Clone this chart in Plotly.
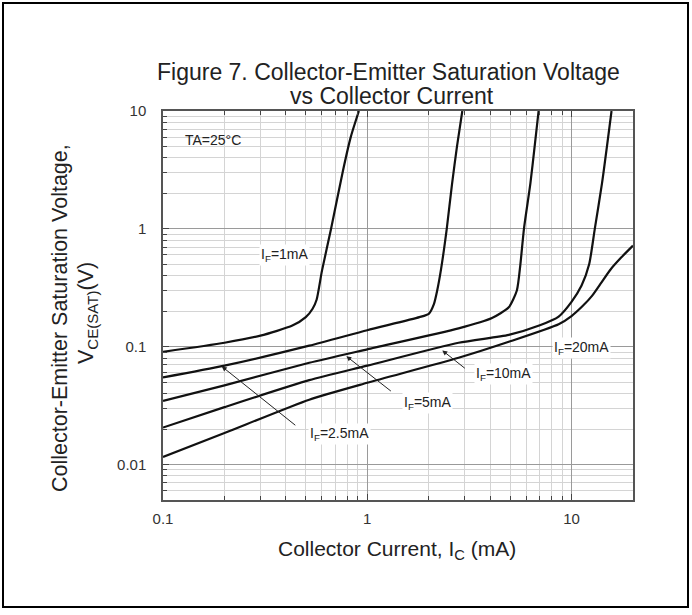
import math
import plotly.graph_objects as go

# ---- data ----
ic_if1 = [0.1, 0.2, 0.3, 0.43, 0.5, 0.54, 0.565, 0.6, 0.665, 0.76, 0.83, 0.91]
vce_if1 = [0.0905, 0.108, 0.124, 0.151, 0.178, 0.21, 0.25, 0.44, 1.0, 3.1, 6.0, 10]

ic_if2_5 = [0.1, 0.2, 0.52, 1.0, 1.8, 2.0, 2.12, 2.2, 2.3, 2.45, 2.6, 2.75, 2.92]
vce_if2_5 = [0.0548, 0.069, 0.102, 0.138, 0.178, 0.19, 0.23, 0.3, 0.46, 1.0, 2.4, 5.0, 10]

ic_if5 = [0.1, 0.2, 0.52, 1.0, 2.8, 4.08, 4.93, 5.4, 5.62, 5.85, 6.29, 6.6, 6.9]
vce_if5 = [0.0347, 0.047, 0.073, 0.095, 0.143, 0.175, 0.216, 0.30, 0.50, 1.0, 2.43, 5.0, 10]

ic_if10 = [0.1, 0.2, 0.52, 1.0, 2.8, 4.93, 7.0, 8.65, 10.0, 11.2, 12.2, 13.0, 14.1, 15.7]
vce_if10 = [0.0206, 0.0307, 0.052, 0.069, 0.108, 0.126, 0.152, 0.18, 0.24, 0.33, 0.5, 1.0, 2.43, 10]

ic_if20 = [0.1, 0.2, 0.52, 1.0, 2.8, 4.93, 8.65, 10.0, 11.3, 12.6, 14.0, 15.5, 17.5, 20]
vce_if20 = [0.0116, 0.0185, 0.0355, 0.0494, 0.0805, 0.110, 0.155, 0.182, 0.22, 0.27, 0.35, 0.45, 0.57, 0.72]

series = [
    ("I<sub>F</sub>=1mA", ic_if1, vce_if1),
    ("I<sub>F</sub>=2.5mA", ic_if2_5, vce_if2_5),
    ("I<sub>F</sub>=5mA", ic_if5, vce_if5),
    ("I<sub>F</sub>=10mA", ic_if10, vce_if10),
    ("I<sub>F</sub>=20mA", ic_if20, vce_if20),
]

x_ticks = [0.1, 1, 10]
x_tick_text = ["0.1", "1", "10"]
y_ticks = [0.01, 0.1, 1, 10]
y_tick_text = ["0.01", "0.1", "1", "10"]

FONT = "Liberation Sans, Arial, sans-serif"
fig = go.Figure()
for name, xs, ys in series:
    fig.add_trace(go.Scatter(
        x=xs, y=ys, mode="lines", name=name,
        line=dict(color="#111111", width=2.2, shape="spline", smoothing=0.6),
        showlegend=False, hoverinfo="skip"))

x_minor = [m * 10 ** d for d in (-1, 0, 1) for m in range(2, 10) if m * 10 ** d < 20]
y_minor = [m * 10 ** d for d in (-3, -2, -1, 0) for m in range(2, 10) if 0.005 <= m * 10 ** d < 10]

fig.update_xaxes(
    type="log", range=[-1, math.log10(20)],
    tickvals=x_ticks, ticktext=x_tick_text,
    ticks="inside", ticklen=6, tickcolor="#444", tickwidth=1,
    showgrid=True, gridcolor="#9a9a9a", gridwidth=1,
    showline=True, linecolor="#555", linewidth=1.5, mirror="ticks",
    minor=dict(tickvals=x_minor, ticks="inside", ticklen=4, tickcolor="#444",
               showgrid=True, gridcolor="#d4d4d4", gridwidth=1),
    tickfont=dict(family=FONT, size=15, color="#333"),
    ticklabelstandoff=4, zeroline=False)
fig.update_yaxes(
    type="log", range=[math.log10(0.005), 1],
    tickvals=y_ticks, ticktext=y_tick_text,
    ticks="inside", ticklen=6, tickcolor="#444", tickwidth=1,
    showgrid=True, gridcolor="#9a9a9a", gridwidth=1,
    showline=True, linecolor="#555", linewidth=1.5, mirror=True,
    minor=dict(tickvals=y_minor, ticks="inside", ticklen=4, tickcolor="#444",
               showgrid=True, gridcolor="#d4d4d4", gridwidth=1),
    tickfont=dict(family=FONT, size=15, color="#333"),
    ticklabelstandoff=12, zeroline=False)

L = math.log10
ann = []
# title (two lines, placed individually for tight spacing)
title_font = dict(family=FONT, size=23, color="#222")
ann.append(dict(xref="paper", yref="paper", x=(388 - 163) / 470, y=(500 - 72) / 389,
                xanchor="center", yanchor="middle",
                text="Figure 7. Collector-Emitter Saturation Voltage",
                showarrow=False, font=title_font))
ann.append(dict(xref="paper", yref="paper", x=(392 - 163) / 470, y=(500 - 96) / 389,
                xanchor="center", yanchor="middle",
                text="vs Collector Current",
                showarrow=False, font=title_font))
# axis titles
ann.append(dict(xref="paper", yref="paper", x=0.498, y=-0.1285, xanchor="center", yanchor="middle",
                text="Collector Current, I<sub>C</sub> (mA)", showarrow=False,
                font=dict(family=FONT, size=21, color="#222")))
ytitle_font = dict(family=FONT, size=21.5, color="#222")
ann.append(dict(xref="paper", yref="paper", x=(60 - 163) / 470, y=(500 - 318) / 389,
                xanchor="center", yanchor="middle",
                text="Collector-Emitter Saturation Voltage,", textangle=-90,
                showarrow=False, font=ytitle_font))
ann.append(dict(xref="paper", yref="paper", x=(87 - 163) / 470, y=(500 - 313) / 389,
                xanchor="center", yanchor="middle",
                text="V<sub>CE(SAT)</sub>(V)", textangle=-90,
                showarrow=False, font=ytitle_font))
# in-plot labels
lab_font = dict(family=FONT, size=14, color="#222")
ann.append(dict(x=L(0.125), y=L(5.66), xanchor="left", yanchor="middle", text="TA=25°C",
                showarrow=False, font=lab_font))
label_pos = [(0.394, 0.595), (0.73, 0.0182), (1.98, 0.0333), (4.66, 0.0589), (11.2, 0.098)]
for (name, _, _), (lx, ly) in zip(series, label_pos):
    ann.append(dict(x=L(lx), y=L(ly), xanchor="center", yanchor="middle", text=name,
                    showarrow=False, font=lab_font, bgcolor="white", borderpad=1))
# arrows
for hx, hy, axp, ayp in [(0.194, 0.068, 75, 60), (0.79, 0.083, 46, 36), (2.33, 0.093, 24, 19)]:
    ann.append(dict(x=L(hx), y=L(hy), ax=axp, ay=ayp, text="", showarrow=True,
                    arrowhead=2, arrowsize=1, arrowwidth=1, arrowcolor="#222", standoff=0))

fig.update_layout(
    width=692, height=615,
    margin=dict(l=163, r=59, t=111, b=115),
    paper_bgcolor="white", plot_bgcolor="white",
    annotations=ann,
    shapes=[dict(type="rect", xref="paper", yref="paper",
                 x0=(3 - 163) / 470, x1=(688 - 163) / 470,
                 y0=(500 - 607) / 389, y1=(500 - 3) / 389,
                 line=dict(color="black", width=2), fillcolor="rgba(0,0,0,0)", layer="below")],
)

fig.write_html("out.html", config={"displayModeBar": False},
               post_script="document.body.style.margin='0px';")
